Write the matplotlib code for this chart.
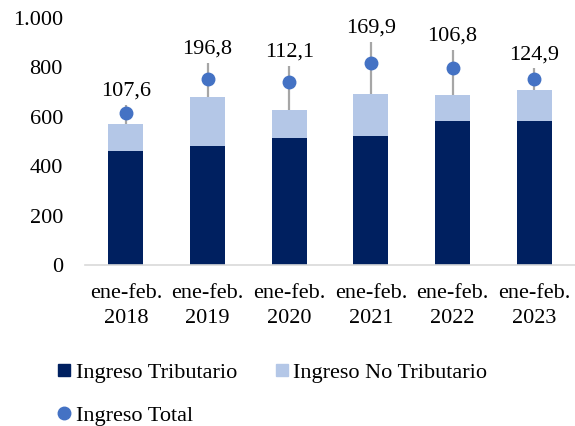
import matplotlib
matplotlib.use("Agg")
import matplotlib.pyplot as plt
from matplotlib.lines import Line2D
from matplotlib.ticker import FuncFormatter
import numpy as np

# --- data (millones) ---
periodos = ['ene-feb.\n2018', 'ene-feb.\n2019', 'ene-feb.\n2020',
            'ene-feb.\n2021', 'ene-feb.\n2022', 'ene-feb.\n2023']
tributario = [462, 482, 514, 521, 583, 584]
no_tributario = [107.6, 196.8, 112.1, 169.9, 106.8, 124.9]
total = [617, 752, 742, 819, 798, 754]
linea_sup = [648, 817, 806, 902, 872, 796]

C_TRIB = '#002060'
C_NOTRIB = '#B4C7E7'
C_TOTAL = '#4472C4'

plt.rcParams['font.family'] = ['Liberation Serif', 'DejaVu Serif']
plt.rcParams['font.size'] = 16

fig = plt.figure(figsize=(5.75, 4.26), dpi=100)
ax = fig.add_axes([0.148, 0.378, 0.852, 0.58])

x = np.arange(len(periodos))
ax.bar(x, tributario, width=0.43, color=C_TRIB, zorder=2)
tope = np.array(tributario) + np.array(no_tributario)
ax.bar(x, no_tributario, bottom=tributario, width=0.43, color=C_NOTRIB, zorder=2)

# linea gris desde el tope de la barra
ax.vlines(x, tope, linea_sup, color='#A6A6A6', lw=1.6, zorder=3)
ax.plot(x, total, 'o', color=C_TOTAL, ms=9, zorder=4)

for xi, yi, v in zip(x, linea_sup, no_tributario):
    ax.annotate(f'{v:.1f}'.replace('.', ','), (xi, yi), xytext=(0, 3),
                textcoords='offset points', ha='center', va='bottom')

ax.set_xlim(-0.5, 5.5)
ax.set_ylim(0, 1000)
ax.set_yticks(range(0, 1001, 200))
ax.yaxis.set_major_formatter(FuncFormatter(lambda v, p: f'{int(v):,}'.replace(',', '.')))
ax.set_xticks(x)
ax.set_xticklabels(periodos, linespacing=1.4)
ax.tick_params(axis='both', length=0)
ax.tick_params(axis='x', pad=14)
ax.tick_params(axis='y', pad=16)
for s in ['top', 'right', 'left']:
    ax.spines[s].set_visible(False)
ax.spines['bottom'].set_color('#D9D9D9')
ax.spines['bottom'].set_linewidth(1.2)

handles = [
    Line2D([], [], marker='s', ls='none', color=C_TRIB, ms=9),
    Line2D([], [], marker='o', ls='none', color=C_TOTAL, ms=9),
    Line2D([], [], marker='s', ls='none', color=C_NOTRIB, ms=9),
]
labels = ['Ingreso Tributario', 'Ingreso Total', 'Ingreso No Tributario']
fig.legend(handles, labels, ncol=2, loc='upper left', bbox_to_anchor=(0.085, 0.17),
           frameon=False, handlelength=0.6, handletextpad=0.2, columnspacing=1.75,
           labelspacing=1.0, borderaxespad=0)

fig.savefig('out.png', dpi=100)
